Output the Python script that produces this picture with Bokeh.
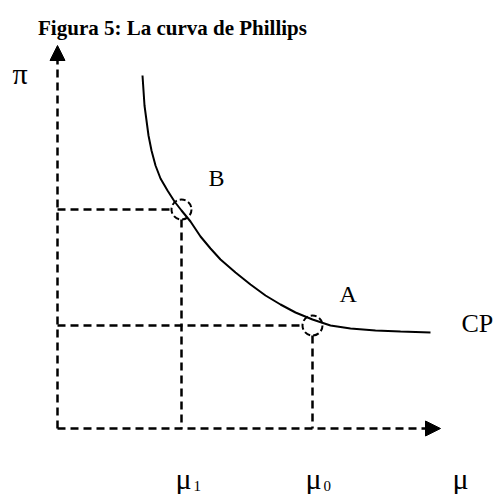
from bokeh.plotting import figure
from bokeh.models import Range1d, Arrow, NormalHead
from bokeh.core.properties import value
from bokeh.embed import file_html
from bokeh.resources import INLINE

# ---- data (diagram units: origin at the axes' corner) ----
# Phillips curve (unemployment mu vs inflation pi)
curve_mu = [85, 86, 87, 89, 91, 94, 98, 103, 110, 117, 124, 133, 143, 153, 163,
            178, 193, 208, 223, 238, 255, 273, 293, 318, 343, 373]
curve_pi = [353, 338, 323, 308, 293, 278, 263, 250, 238, 227, 218, 207, 192, 180,
            169, 156, 144, 133, 124, 116, 109, 103, 100, 98, 97, 96]

point_names = ["B", "A"]
point_mu = [124, 255]     # mu1, mu0
point_pi = [219, 103]     # pi1, pi0

axis_max = 383
title_text = "Figura 5: La curva de Phillips"
curve_label = "CP"
mu_labels = ["\u03bc", "\u03bc", "\u03bc"]
mu_subs = ["1", "0", ""]

SERIF = value("Liberation Serif")

p = figure(width=501, height=494, output_backend="svg", toolbar_location=None,
           x_range=Range1d(-57, 444), y_range=Range1d(-66, 428),
           min_border=0, outline_line_color=None)
p.axis.visible = False
p.grid.visible = False
p.background_fill_color = "white"
p.border_fill_color = "white"

DASH = "8 5"
LW = 2.5

# axes with arrowheads
p.add_layout(Arrow(end=NormalHead(size=15, fill_color="black", line_color="black", line_width=1),
                   x_start=0, y_start=0, x_end=0, y_end=axis_max,
                   line_width=LW, line_dash=DASH, line_color="black"))
p.add_layout(Arrow(end=NormalHead(size=15, fill_color="black", line_color="black", line_width=1),
                   x_start=0, y_start=0, x_end=axis_max, y_end=0,
                   line_width=LW, line_dash=DASH, line_color="black"))

# guide lines from the axes to the points (stopping at the circles)
gap = 10
for m, pi in zip(point_mu, point_pi):
    p.line([0, m - gap], [pi, pi], line_width=LW, line_dash=DASH, line_color="black")
    p.line([m, m], [pi - gap, 0], line_width=LW, line_dash=DASH, line_color="black")

# curve
p.line(curve_mu, curve_pi, line_width=2, line_color="black")

# dashed circles at the points
p.scatter(point_mu, point_pi, marker="circle", size=20, fill_color=None,
          line_color="black", line_width=2, line_dash="6 3")

# point labels
p.text(x=[m + 27 for m in point_mu], y=[pi + 32 for pi in point_pi], text=point_names,
       text_font=SERIF, text_font_size="24px", text_color="black",
       text_baseline="alphabetic", text_align="left")

# curve label
p.text(x=[curve_mu[-1] + 31], y=[curve_pi[-1] + 9], text=[curve_label],
       text_font=SERIF, text_font_size="26px", text_color="black",
       text_baseline="alphabetic", text_align="left")

# axis labels
p.text(x=[-45], y=[355], text=["\u03c0"], text_font=SERIF, text_font_size="30px",
       text_color="black", text_baseline="alphabetic", text_align="left")

mu_x = [point_mu[0] - 6, point_mu[1] - 7, axis_max + 12]
p.text(x=mu_x, y=[-50] * 3, text=mu_labels, text_font=SERIF, text_font_size="30px",
       text_color="black", text_baseline="alphabetic", text_align="left")
p.text(x=[x + 18 for x in mu_x], y=[-57] * 3, text=mu_subs, text_font=SERIF,
       text_font_size="15px", text_color="black", text_baseline="alphabetic",
       text_align="left")

# title
p.text(x=[115], y=[401], text=[title_text], text_font=SERIF, text_font_size="21px",
       text_font_style="bold", text_color="black", text_baseline="alphabetic",
       text_align="center")

open("out.html", "w").write(file_html(p, INLINE))
